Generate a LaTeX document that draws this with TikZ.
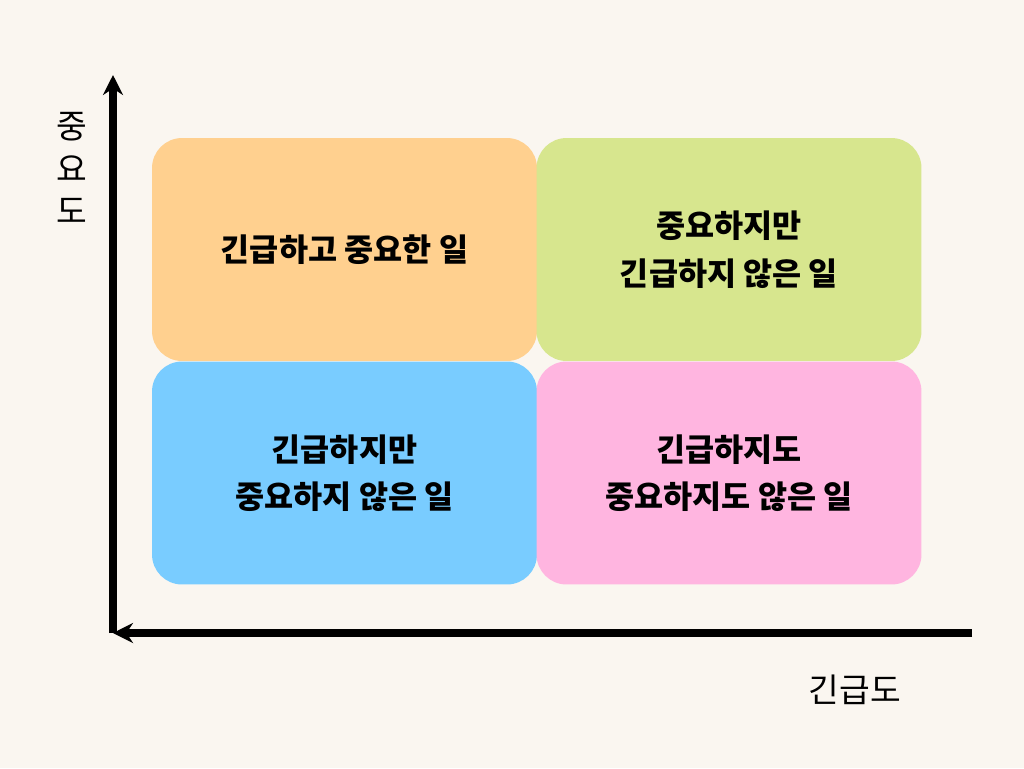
\documentclass[tikz,border=0pt]{standalone}
\usepackage{fontspec}
\newfontfamily\cjk{Noto Sans CJK KR}
\usetikzlibrary{positioning,arrows.meta}
\definecolor{bg}{HTML}{FAF6F0}
\definecolor{qorange}{HTML}{FFD08F}
\definecolor{qgreen}{HTML}{D7E68E}
\definecolor{qblue}{HTML}{79CCFF}
\definecolor{qpink}{HTML}{FFB5E0}
\tikzset{
  quad/.style={rectangle,rounded corners=0.6cm,minimum width=7.7cm,minimum height=4.46cm,
    align=center,font=\cjk\bfseries\fontsize{18}{27}\selectfont,inner sep=0pt},
  axis/.style={line width=1.6mm,-{Stealth[length=4mm,width=4mm]}},
  axlabel/.style={font=\cjk\fontsize{19}{24}\selectfont,align=center}
}
\begin{document}
\begin{tikzpicture}[x=0.02cm,y=-0.02cm]
  \fill[bg] (0,0) rectangle (1024,768);
  \useasboundingbox (0,0) rectangle (1024,768);

  \node[quad,fill=qorange] (UrgImp)   at (344.5,249.5) {긴급하고 중요한 일};
  \node[quad,fill=qgreen]  (ImpOnly)  at (729,249.5)   {중요하지만\\긴급하지 않은 일};
  \node[quad,fill=qblue]   (UrgOnly)  at (344.5,473)   {긴급하지만\\중요하지 않은 일};
  \node[quad,fill=qpink]   (Neither)  at (729,473)     {긴급하지도\\중요하지도 않은 일};

  \coordinate (Origin) at (113,633);
  \coordinate (TopEnd) at (113,75);
  \coordinate (RightEnd) at (972,633);
  \draw[axis] (Origin) -- (TopEnd);
  \draw[axis] (RightEnd) -- (Origin);

  \node[axlabel] (ImpLabel) at (72,168) {중\\요\\도};
  \node[axlabel] (UrgLabel) at (855,690) {긴급도};
\end{tikzpicture}
\end{document}
